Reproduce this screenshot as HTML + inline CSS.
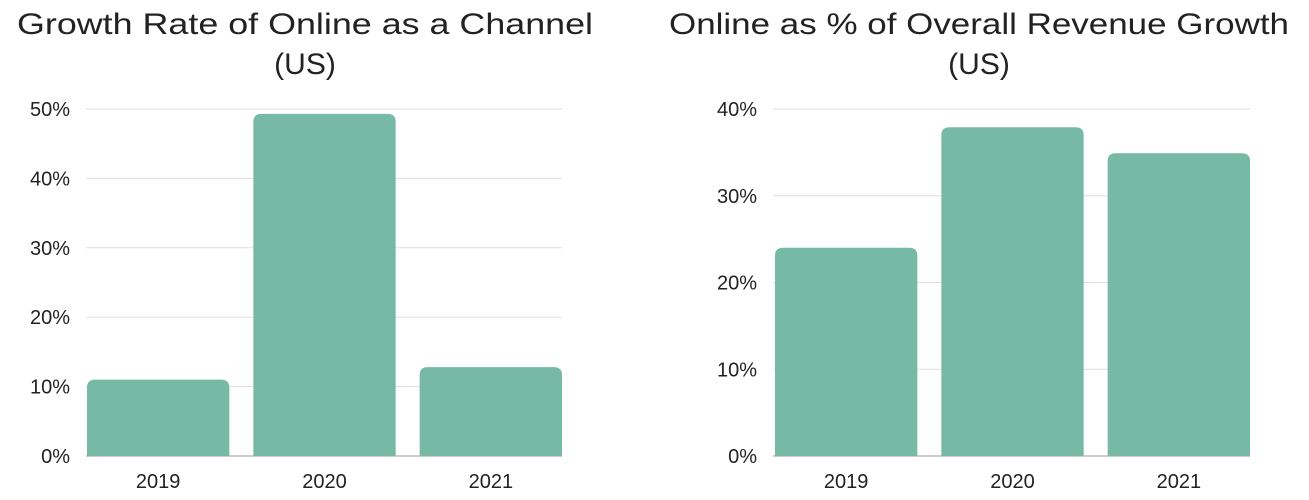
<!DOCTYPE html>
<html><head><meta charset="utf-8"><style>
html,body{margin:0;padding:0;background:#fff;}
svg{display:block;font-family:"Liberation Sans",sans-serif;}
</style></head><body>
<svg id="chart" width="1309" height="500">
<text x="305" y="34" font-size="30" fill="#222" text-anchor="middle" textLength="576" lengthAdjust="spacingAndGlyphs">Growth Rate of Online as a Channel</text>
<text x="305" y="74" font-size="30" fill="#222" text-anchor="middle">(US)</text>
<text x="979" y="34" font-size="30" fill="#222" text-anchor="middle" textLength="620" lengthAdjust="spacingAndGlyphs">Online as % of Overall Revenue Growth</text>
<text x="979" y="74" font-size="30" fill="#222" text-anchor="middle">(US)</text>
<g id="left"></g><g id="right"></g>
</svg>
<script>
const categories = ["2019","2020","2021"];
const leftValues = [11, 49.3, 12.8];
const leftTicks = [0,10,20,30,40,50];
const rightValues = [24, 37.9, 34.9];
const rightTicks = [0,10,20,30,40];
const NS="http://www.w3.org/2000/svg";
function mk(tag,attrs,parent){const e=document.createElementNS(NS,tag);for(const k in attrs)e.setAttribute(k,attrs[k]);parent.appendChild(e);return e;}
function draw(g,prefix,gx0,x0,x1,y0,y1,maxV,ticks,values){
  const y=v=>y0-(v/maxV)*(y0-y1);
  const gap=24, n=categories.length, bw=(x1-x0-gap*(n-1))/n;
  ticks.forEach(t=>{
    const l=mk('line',{x1:gx0,x2:x1,y1:y(t),y2:y(t),stroke:t===0?'#999':'#ddd','stroke-width':1},g);
    
    
    const tx=mk('text',{x:gx0-16,y:y(t)+7,'font-size':20,fill:'#222','text-anchor':'end'},g);
    tx.textContent=t+'%';
    
    
  });
  values.forEach((v,i)=>{
    const bx=x0+i*(bw+gap), cx=bx+bw/2, top=y(v), r=8;
    const p=mk('path',{d:`M${bx},${y0}V${top+r}Q${bx},${top} ${bx+r},${top}H${bx+bw-r}Q${bx+bw},${top} ${bx+bw},${top+r}V${y0}Z`,fill:'#76baa5'},g);
    
    
    const tx=mk('text',{x:cx,y:y0+32,'font-size':20,fill:'#222','text-anchor':'middle'},g);
    tx.textContent=categories[i];
    
    
  });
}
draw(document.getElementById('left'),'left',86,87,562,456,109,50,leftTicks,leftValues);
draw(document.getElementById('right'),'right',773,775,1250,456,109,40,rightTicks,rightValues);
</script>
</body></html>
